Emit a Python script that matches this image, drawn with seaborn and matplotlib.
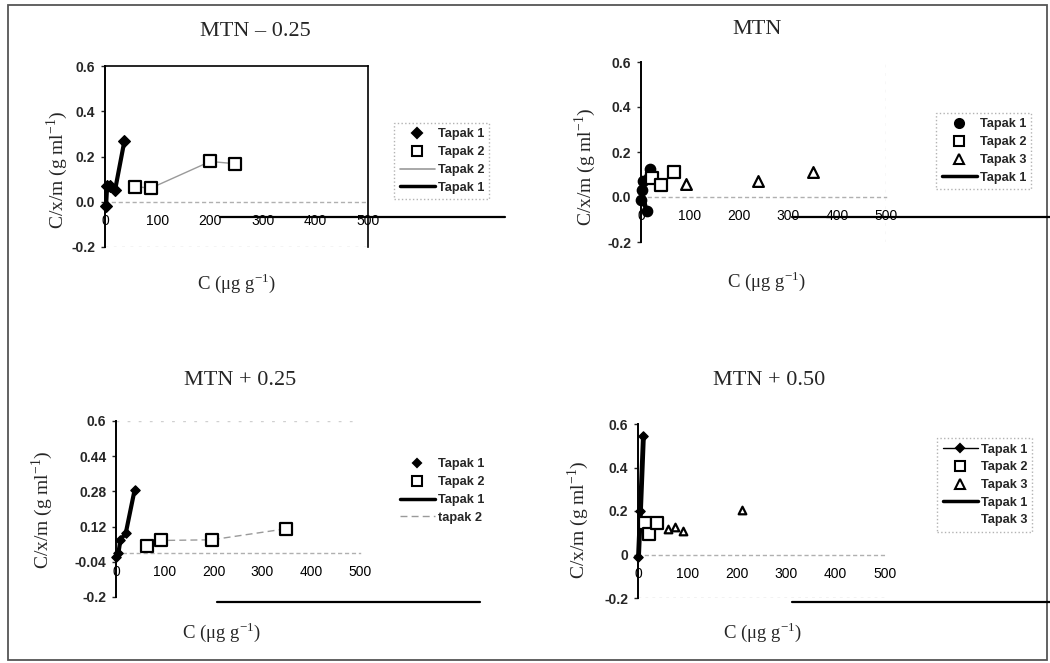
import numpy as np
import pandas as pd
import matplotlib
matplotlib.use("Agg")
import matplotlib.pyplot as plt
import seaborn as sns
from matplotlib.lines import Line2D
from matplotlib.patches import Rectangle

sns.set_style("white")
plt.rcParams["font.family"] = ["Liberation Sans", "DejaVu Sans"]
plt.rcParams["mathtext.fontset"] = "custom"
plt.rcParams["mathtext.rm"] = "Liberation Serif"

# ---------------- data ----------------
titles = ["MTN \u2013 0.25", "MTN", "MTN + 0.25", "MTN + 0.50"]
x_ticks = [0, 100, 200, 300, 400, 500]

# Panel 1: MTN - 0.25
p1_t1_x = [2, 4, 10, 19, 37]
p1_t1_y = [-0.02, 0.07, 0.07, 0.05, 0.27]
p1_t2_x = [57, 87, 200, 248]
p1_t2_y = [0.067, 0.06, 0.178, 0.168]
p1_yticks = [-0.2, 0.0, 0.2, 0.4, 0.6]
p1_ylabels = ["-0.2", "0.0", "0.2", "0.4", "0.6"]

# Panel 2: MTN
p2_t1_x = [1, 12, 2, 4, 18]
p2_t1_y = [-0.015, -0.06, 0.03, 0.07, 0.125]
p2_t2_x = [22, 40, 67]
p2_t2_y = [0.085, 0.054, 0.113]
p2_t3_x = [91, 238, 350]
p2_t3_y = [0.058, 0.07, 0.11]
p2_yticks = [-0.2, 0.0, 0.2, 0.4, 0.6]
p2_ylabels = ["-0.2", "0.0", "0.2", "0.4", "0.6"]

# Panel 3: MTN + 0.25
p3_t1_x = [1, 5, 9, 20, 38]
p3_t1_y = [-0.02, 0.0, 0.06, 0.09, 0.285]
p3_t2_x = [64, 92, 196, 348]
p3_t2_y = [0.03, 0.057, 0.06, 0.11]
p3_yticks = [-0.2, -0.04, 0.12, 0.28, 0.44, 0.6]
p3_ylabels = ["-0.2", "-0.04", "0.12", "0.28", "0.44", "0.6"]

# Panel 4: MTN + 0.50
p4_t1_x = [1, 5, 11]
p4_t1_y = [-0.01, 0.2, 0.545]
p4_t2_x = [14, 23, 38]
p4_t2_y = [0.146, 0.092, 0.146]
p4_t3_x = [60, 75, 92, 210]
p4_t3_y = [0.115, 0.125, 0.11, 0.205]
p4_yticks = [-0.2, 0.0, 0.2, 0.4, 0.6]
p4_ylabels = ["-0.2", "0", "0.2", "0.4", "0.6"]

W, H = 1050, 663
def fx(x): return x / W
def fy(y): return 1 - y / H

fig = plt.figure(figsize=(10.5, 6.63), dpi=100)

def make_ax(l, t, r, b):
    return fig.add_axes([fx(l), fy(b), (r - l) / W, (b - t) / H])

axes = [make_ax(105, 66, 368, 247), make_ax(641, 62, 886, 242),
        make_ax(116, 421, 360, 597), make_ax(638, 424, 885, 598)]
yticks_all = [p1_yticks, p2_yticks, p3_yticks, p4_yticks]
ylabels_all = [p1_ylabels, p2_ylabels, p3_ylabels, p4_ylabels]

for ax, yt, yl in zip(axes, yticks_all, ylabels_all):
    ax.set_xlim(0, 500)
    ax.set_ylim(-0.2, 0.6)
    ax.set_xticks(x_ticks)
    ax.set_xticklabels([str(v) for v in x_ticks], fontweight="bold", fontsize=10)
    ax.set_yticks(yt)
    ax.set_yticklabels(yl, fontweight="bold", fontsize=10)
    for s in ["top", "right"]:
        ax.spines[s].set_visible(False)
    ax.spines["left"].set_color("black")
    ax.spines["left"].set_linewidth(1.4)
    ax.spines["bottom"].set_position(("data", 0))
    ax.spines["bottom"].set_color("#b0b0b0")
    ax.spines["bottom"].set_linestyle((0, (2, 3)))
    ax.spines["bottom"].set_linewidth(1.0)
    ax.tick_params(axis="x", length=0, pad=9, colors="black")
    ax.tick_params(axis="y", length=3, width=1, direction="out", pad=4, left=True)
    ax.set_facecolor("white")

# Panel 1 frame (top & right spines)
axes[0].spines["top"].set_visible(True)
axes[0].spines["right"].set_visible(True)
axes[0].spines["top"].set_color("black")
axes[0].spines["right"].set_color("black")
axes[0].spines["top"].set_linewidth(1.2)
axes[0].spines["right"].set_linewidth(1.2)
axes[0].axhline(-0.2, color="#c8c8c8", lw=1, ls=(0, (2, 4)))
axes[1].axvline(500, color="#d8d8d8", lw=1, ls=(0, (2, 4)))
axes[2].axhline(0.6, color="#d0d0d0", lw=1, ls=(0, (2, 6)))
axes[3].axhline(-0.2, color="#c0c0c0", lw=1, ls=(0, (2, 3)))

def line(ax, x, y, lw, color, ls="-"):
    df = pd.DataFrame({"x": x, "y": y})
    sns.lineplot(data=df, x="x", y="y", ax=ax, sort=False, estimator=None,
                 color=color, lw=lw, ls=ls, clip_on=False)

def pts(ax, x, y, marker, filled, s):
    df = pd.DataFrame({"x": x, "y": y})
    if filled:
        sns.scatterplot(data=df, x="x", y="y", ax=ax, marker=marker, s=s,
                        color="black", edgecolor="black", linewidth=1, clip_on=False, zorder=4)
    else:
        sns.scatterplot(data=df, x="x", y="y", ax=ax, marker=marker, s=s,
                        facecolor="white", edgecolor="black", linewidth=1.6, clip_on=False, zorder=4)

# Panel 1
ax = axes[0]
line(ax, p1_t2_x, p1_t2_y, 1.0, "#9a9a9a")
line(ax, p1_t1_x, p1_t1_y, 3.0, "black")
pts(ax, p1_t1_x, p1_t1_y, "D", True, 35)
pts(ax, p1_t2_x, p1_t2_y, "s", False, 65)

# Panel 2
ax = axes[1]
line(ax, p2_t1_x, p2_t1_y, 2.5, "black")
pts(ax, p2_t1_x, p2_t1_y, "o", True, 55)
pts(ax, p2_t2_x, p2_t2_y, "s", False, 70)
pts(ax, p2_t3_x, p2_t3_y, "^", False, 60)

# Panel 3
ax = axes[2]
line(ax, p3_t2_x, p3_t2_y, 1.0, "#9a9a9a", ls=(0, (5, 3)))
line(ax, p3_t1_x, p3_t1_y, 3.0, "black")
pts(ax, p3_t1_x, p3_t1_y, "D", True, 22)
pts(ax, p3_t2_x, p3_t2_y, "s", False, 70)

# Panel 4
ax = axes[3]
line(ax, p4_t3_x, p4_t3_y, 0.8, "white")
line(ax, p4_t1_x, p4_t1_y, 3.5, "black")
pts(ax, p4_t1_x, p4_t1_y, "D", True, 22)
pts(ax, p4_t2_x, p4_t2_y, "s", False, 70)
pts(ax, p4_t3_x, p4_t3_y, "^", False, 30)

for ax in axes:
    ax.set_xlabel("")
    ax.set_ylabel("")

# titles and axis labels
title_pos = [(255, 32), (757, 30), (240, 381), (769, 381)]
xlab_pos = [(237, 283), (767, 281), (222, 632), (763, 632)]
ylab_pos = [(57, 170), (585, 167), (42, 510), (578, 520)]
for t, tp, xp, yp in zip(titles, title_pos, xlab_pos, ylab_pos):
    fig.text(fx(tp[0]), fy(tp[1]), t, ha="center", va="center",
             family="Liberation Serif", fontsize=16)
    fig.text(fx(xp[0]), fy(xp[1]), r"C ($\mathrm{\mu}$g g$^{\mathrm{-1}}$)", ha="center", va="center",
             family="Liberation Serif", fontsize=13.5)
    fig.text(fx(yp[0]), fy(yp[1]), r"C/x/m (g ml$^{\mathrm{-1}}$)", ha="center", va="center",
             rotation=90, family="Liberation Serif", fontsize=14)

# legends
def H_(marker=None, filled=True, ms=7, lw=0, color="black", ls="-"):
    return Line2D([], [], marker=marker, markersize=ms, lw=lw, color=color, ls=ls,
                  markerfacecolor=("black" if filled else "white"),
                  markeredgecolor="black", markeredgewidth=1.5)

legends = [
    ((388, 117), [H_("D", True, 5.5), H_("s", False, 7), H_(None, lw=1.2, color="#9a9a9a"), H_(None, lw=2.5)],
     ["Tapak 1", "Tapak 2", "Tapak 2", "Tapak 1"], True),
    ((930, 107), [H_("o", True, 6.5), H_("s", False, 7), H_("^", False, 7), H_(None, lw=2.5)],
     ["Tapak 1", "Tapak 2", "Tapak 3", "Tapak 1"], True),
    ((388, 447), [H_("D", True, 4), H_("s", False, 7), H_(None, lw=2.5), H_(None, lw=1.0, color="#9a9a9a", ls=(0, (5, 3)))],
     ["Tapak 1", "Tapak 2", "Tapak 1", "tapak 2"], False),
    ((931, 432), [H_("D", True, 4, lw=1.0), H_("s", False, 7), H_("^", False, 7), H_(None, lw=2.5), H_(None, lw=1.0, color="white")],
     ["Tapak 1", "Tapak 2", "Tapak 3", "Tapak 1", "Tapak 3"], True),
]
for (pos, handles, labels, frame) in legends:
    leg = fig.legend(handles, labels, loc="upper left", bbox_to_anchor=(fx(pos[0]), fy(pos[1])),
                     bbox_transform=fig.transFigure, frameon=frame, fancybox=False,
                     prop={"weight": "bold", "size": 9.2, "family": "Liberation Sans"},
                     handlelength=2.8, handletextpad=0.2, labelspacing=0.45, borderpad=0.4)
    if frame:
        leg.get_frame().set_edgecolor("#a0a0a0")
        leg.get_frame().set_linestyle(":")
        leg.get_frame().set_linewidth(1.0)

# scan artefact lines and outer frame
for (x0, x1, y) in [(220, 505, 217), (792, 1050, 217), (217, 480, 602), (792, 1050, 602)]:
    fig.add_artist(Line2D([fx(x0), fx(x1)], [fy(y), fy(y)], color="black", lw=1.6,
                          transform=fig.transFigure))
fig.add_artist(Rectangle((fx(8), fy(660)), (1047 - 8) / W, (660 - 5) / H, fill=False,
                         edgecolor="#555555", lw=1.3, transform=fig.transFigure))

fig.savefig("out.png", dpi=100, facecolor="white")
